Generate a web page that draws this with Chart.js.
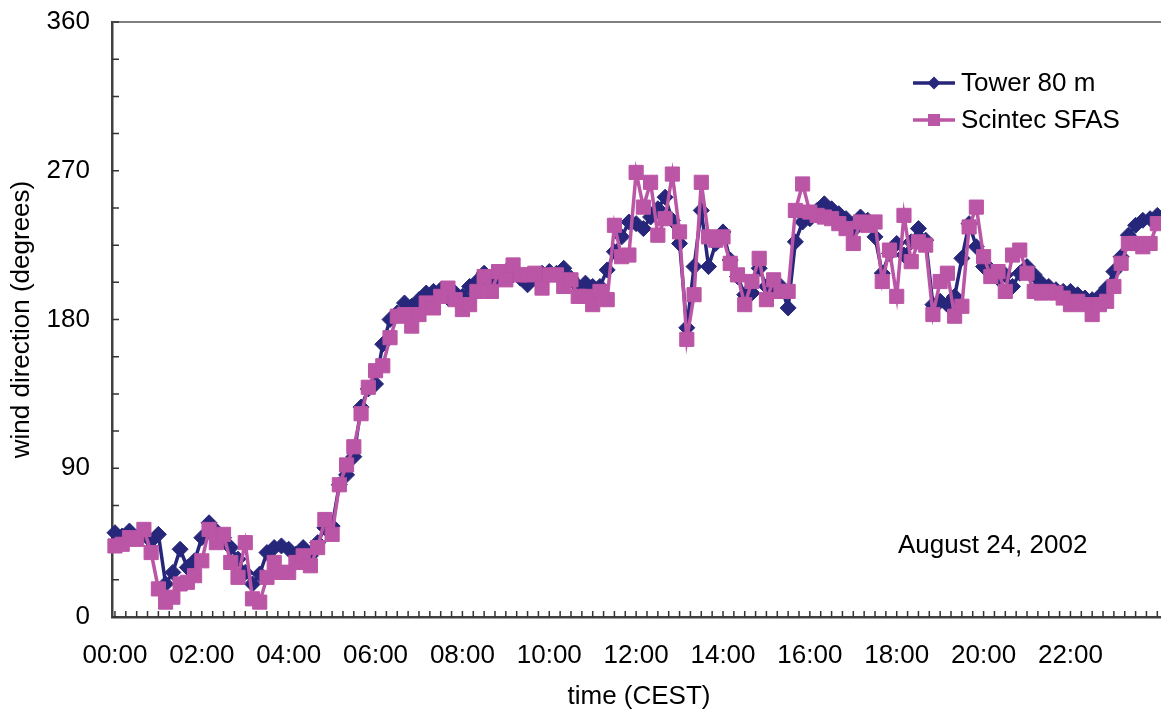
<!DOCTYPE html>
<html>
<head>
<meta charset="utf-8">
<title>Wind direction, August 24, 2002</title>
<script src="https://cdn.jsdelivr.net/npm/chart.js@4.4.1/dist/chart.umd.min.js"></script>
<style>
  html, body { margin: 0; padding: 0; background: #fff; overflow: hidden; }
  #wrap { width: 1177px; height: 715px; }
</style>
</head>
<body>
<div id="wrap"><canvas id="chart" width="1177" height="715"></canvas></div>
<script>
// Wind direction (degrees), one value every 10 minutes from 00:00 to 24:00
const towerDir = [
  51, 49, 52, 48, 50, 46, 50, 20, 27, 41, 30, 34, 48, 57, 52, 48, 42, 35, 27, 20, 26, 39, 42, 43,
  41, 38, 42, 37, 45, 54, 55, 80, 86, 97, 127, 138, 141, 165, 180, 184, 190, 188, 192, 196,
  197, 198, 193, 196, 194, 200, 203, 208, 201, 205, 209, 207, 205, 201, 205, 208, 209, 208, 211, 205,
  200, 202, 200, 200, 210, 221, 230, 239, 238, 235, 242, 247, 254, 240, 226, 175, 212, 246, 212, 226,
  233, 216, 206, 195, 196, 211, 200, 200, 200, 187, 227, 239, 241, 246, 250, 247, 244, 241, 234, 242,
  240, 230, 208, 220, 226, 219, 227, 235, 228, 189, 191, 189, 194, 217, 238, 224, 212, 210, 205, 207,
  200, 208, 212, 207, 202, 200, 198, 197, 197, 195, 193, 192, 194, 199, 209, 218, 231, 237, 240, 241,
  243
];
const scintecDir = [
  43, 44, 48, 47, 53, 39, 17, 9, 12, 20, 21, 25, 34, 53, 45, 50, 33, 24, 45, 11, 9, 24, 33, 27,
  27, 33, 37, 31, 42, 59, 50, 80, 92, 103, 123, 139, 149, 152, 169, 182, 183, 176, 183, 190,
  187, 194, 199, 192, 186, 189, 197, 206, 197, 209, 204, 213, 207, 207, 208, 199, 207, 207, 200, 204,
  194, 194, 189, 197, 192, 237, 218, 219, 269, 248, 263, 231, 241, 268, 233, 168, 195, 263, 230, 228,
  230, 214, 207, 189, 203, 217, 192, 204, 197, 197, 246, 262, 245, 243, 242, 241, 238, 235, 226, 239,
  237, 239, 203, 222, 194, 243, 215, 227, 225, 183, 203, 208, 182, 188, 236, 248, 218, 206, 209, 197,
  219, 222, 208, 197, 196, 197, 196, 193, 189, 191, 189, 183, 189, 191, 200, 214, 226, 226, 224, 226,
  238
];
const seriesNames = ['Tower 80 m', 'Scintec SFAS'];
const xTickLabels = ['00:00', '02:00', '04:00', '06:00', '08:00', '10:00',
                     '12:00', '14:00', '16:00', '18:00', '20:00', '22:00'];
const yTickValues = [0, 90, 180, 270, 360];

// time labels for each sample (10 minute step)
const timeLabels = [];
for (let m = 0; m < towerDir.length * 10; m += 10) {
  timeLabels.push(String(Math.floor(m / 60)).padStart(2, '0') + ':' + String(m % 60).padStart(2, '0'));
}
const toHours = s => { const p = s.split(':'); return +p[0] + p[1] / 60; };

const BLUE = '#26267a';
const PINK = '#bb55a5';
const FONT = 'Liberation Sans, Arial, sans-serif';

// frame, inside tick marks, legend and date note
const framePlugin = {
  id: 'frame',
  beforeDatasetsDraw(chart) {
    const { ctx, chartArea: a, scales: { x, y } } = chart;
    ctx.save();
    ctx.strokeStyle = '#808080';
    ctx.lineWidth = 2;
    ctx.beginPath();
    ctx.moveTo(a.left, a.top);
    ctx.lineTo(a.right, a.top);
    ctx.lineTo(a.right, a.bottom);
    ctx.stroke();

    ctx.strokeStyle = '#333';
    ctx.lineWidth = 1.5;
    ctx.beginPath();
    for (let v = 0; v <= 360; v += 22.5) {
      const py = y.getPixelForValue(v);
      ctx.moveTo(a.left, py);
      ctx.lineTo(a.left + 7, py);
    }
    for (let h = 0; h <= 24; h += 0.25) {
      const px = x.getPixelForValue(h);
      ctx.moveTo(px, a.bottom);
      ctx.lineTo(px, a.bottom - 6);
    }
    ctx.stroke();
    ctx.restore();
  },
  afterDraw(chart) {
    const ctx = chart.ctx;
    ctx.save();
    ctx.font = '26px ' + FONT;
    ctx.textBaseline = 'middle';
    chart.data.datasets.forEach((ds, i) => {
      const ly = 83 + i * 37;
      ctx.strokeStyle = ds.borderColor;
      ctx.lineWidth = 3.5;
      ctx.beginPath();
      ctx.moveTo(913, ly);
      ctx.lineTo(955, ly);
      ctx.stroke();
      ctx.fillStyle = ds.backgroundColor;
      ctx.beginPath();
      if (ds.pointStyle === 'rectRot') {
        ctx.moveTo(934 - 6.5, ly);
        ctx.lineTo(934, ly - 6.5);
        ctx.lineTo(934 + 6.5, ly);
        ctx.lineTo(934, ly + 6.5);
        ctx.closePath();
      } else {
        ctx.rect(934 - 6, ly - 6, 12, 12);
      }
      ctx.fill();
      ctx.fillStyle = '#000';
      ctx.textAlign = 'left';
      ctx.fillText(ds.label, 961, ly + 1);
    });
    ctx.fillText('August 24, 2002', 898, 546);
    ctx.restore();
  }
};

const toPoints = arr => arr.map((v, i) => ({ x: toHours(timeLabels[i]), y: v }));

new Chart(document.getElementById('chart'), {
  type: 'line',
  data: {
    datasets: [
      {
        label: seriesNames[0],
        data: toPoints(towerDir),
        borderColor: BLUE,
        backgroundColor: BLUE,
        borderWidth: 3.5,
        pointStyle: 'rectRot',
        pointRadius: 8,
        pointBorderWidth: 1,
        tension: 0,
        clip: false,
        order: 1
      },
      {
        label: seriesNames[1],
        data: toPoints(scintecDir),
        borderColor: PINK,
        backgroundColor: PINK,
        borderWidth: 3.5,
        pointStyle: 'rect',
        pointRadius: 10,
        pointBorderWidth: 1,
        tension: 0,
        clip: false,
        order: 0
      }
    ]
  },
  options: {
    responsive: false,
    animation: false,
    events: [],
    layout: { padding: { top: 22, left: 0, right: 0, bottom: 0 } },
    plugins: { legend: { display: false }, tooltip: { enabled: false } },
    scales: {
      x: {
        type: 'linear',
        min: -0.068,
        max: 24.2,
        grid: { display: false, drawTicks: false },
        border: { color: '#404040', width: 2.5 },
        afterBuildTicks: s => { s.ticks = xTickLabels.map(l => ({ value: toHours(l) })); },
        afterFit: s => { s.height = 98; s.paddingLeft = 0; s.paddingRight = 0; },
        ticks: {
          padding: 23,
          color: '#000',
          maxRotation: 0,
          autoSkip: false,
          font: { family: FONT, size: 26 },
          callback: (v, i) => xTickLabels[i]
        },
        title: {
          display: true,
          text: 'time (CEST)',
          color: '#000',
          font: { family: FONT, size: 26 },
          padding: { top: 0, bottom: 3 }
        }
      },
      y: {
        min: 0,
        max: 360,
        grid: { display: false, drawTicks: false },
        border: { color: '#404040', width: 2.5 },
        afterBuildTicks: s => { s.ticks = yTickValues.map(v => ({ value: v })); },
        afterFit: s => { s.width = 112; s.paddingTop = 0; s.paddingBottom = 0; },
        ticks: {
          padding: 22,
          color: '#000',
          font: { family: FONT, size: 26 }
        },
        title: {
          display: true,
          text: 'wind direction (degrees)',
          color: '#000',
          font: { family: FONT, size: 26 },
          padding: { top: 6, bottom: 0 }
        }
      }
    }
  },
  plugins: [framePlugin]
});
</script>
</body>
</html>
